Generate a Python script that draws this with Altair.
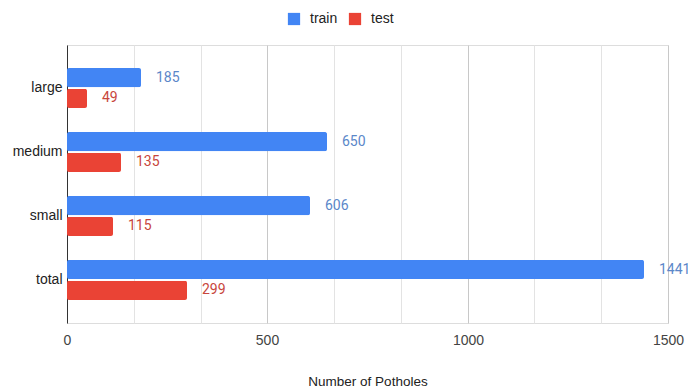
import altair as alt
import pandas as pd

categories = ["large", "medium", "small", "total"]
series = ["train", "test"]
train_values = [185, 650, 606, 1441]
test_values = [49, 135, 115, 299]

bar_colors = ["#4285F4", "#EA4335"]
label_colors = ["#5b87c9", "#c8463c"]

rows = []
for c, tr, te in zip(categories, train_values, test_values):
    rows.append({"category": c, "series": "train", "value": tr})
    rows.append({"category": c, "series": "test", "value": te})
df = pd.DataFrame(rows)

grid_ticks = [i * 1500 / 18 for i in range(19)]
major_test = "abs(datum.value/500 - round(datum.value/500)) < 0.001"

y_enc = alt.Y("category:N", sort=categories,
              scale=alt.Scale(paddingInner=0.374, paddingOuter=0.36),
              axis=alt.Axis(title=None, ticks=False, domain=True, domainColor="#333333",
                            domainWidth=1, labelFontSize=14, labelColor="#222222",
                            labelPadding=5, labelFont="Liberation Sans", grid=False))
yoff = alt.YOffset("series:N", sort=series, scale=alt.Scale(paddingInner=0.08))
x_enc = alt.X("value:Q", scale=alt.Scale(domain=[0, 1500], nice=False, round=True),
              axis=alt.Axis(values=grid_ticks, title="Number of Potholes",
                            labelExpr=f"{major_test} ? format(datum.value, 'd') : ''",
                            ticks=False, domain=False, labelFontSize=14,
                            labelColor="#444444", labelPadding=10,
                            labelFont="Liberation Sans", labelFlush=False,
                            titleFontSize=13.5, titleFontWeight="normal",
                            titleColor="#222222", titlePadding=27,
                            titleFont="Liberation Sans",
                            gridColor={"condition": {"test": major_test, "value": "#c8c8c8"},
                                       "value": "#e3e3e3"},
                            gridWidth=1))

bars = alt.Chart(df).mark_bar(cornerRadius=2).encode(
    x=x_enc,
    y=y_enc,
    yOffset=yoff,
    color=alt.Color("series:N", sort=series,
                    scale=alt.Scale(domain=series, range=bar_colors),
                    legend=alt.Legend(title=None, orient="none", direction="horizontal",
                                      legendX=220, legendY=-33, symbolType="square",
                                      symbolSize=150, symbolStrokeWidth=0,
                                      labelFontSize=14, labelFont="Liberation Sans",
                                      labelColor="#222222",
                                      labelOffset=9)),
)

labels = alt.Chart(df).mark_text(align="left", baseline="middle", dx=15,
                                 fontSize=14, font="Roboto").encode(
    x=alt.X("value:Q"),
    y=alt.Y("category:N", sort=categories),
    yOffset=yoff,
    text=alt.Text("value:Q"),
    color=alt.Color("series:N", scale=alt.Scale(domain=series, range=label_colors), legend=None),
)

chart = alt.layer(bars, labels).resolve_scale(color="independent").properties(
    width=601, height=278,
    autosize=alt.AutoSizeParams(type="none"),
    padding={"left": 67, "top": 45, "right": 20, "bottom": 66},
).configure_view(stroke=None).configure_legend(columnPadding=26).configure(background="white")

chart.save("out.html", embed_options={"renderer": "svg", "actions": False})
